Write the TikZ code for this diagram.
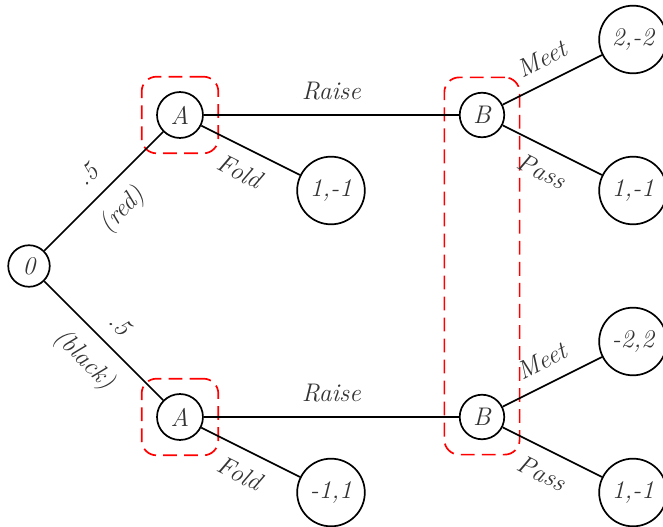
\documentclass[tikz,border=0pt]{standalone}
\usepackage{amsmath}
\usepackage{tikz}
\usetikzlibrary{positioning}
\usetikzlibrary{fit}

\begin{document}
\begin{tikzpicture}[thick,on grid,node distance=2.5cm,
	every node/.style={font=\large\itshape,text=black!80},
	main node/.style={circle,draw,inner sep=0.3333em},
	leaf node/.style={circle,draw,minimum size=1.12cm,inner sep=0pt},
	move/.style={sloped,inner sep=6.5pt},
	info set/.style={draw=red,dash pattern=on 6.5pt off 3.4pt,rounded corners=7pt,inner sep=0.24cm}]
	\useasboundingbox (-0.48,-4.305) rectangle (10.497,4.404);
	
	\node[main node] (r) {0};
	\node[main node] (a1) [above right=2.5cm and 2.5cm of r] {A};
	\node[main node] (a2) [below right=2.5cm and 2.5cm of r] {A};
	\node[main node] (b1) [right=5cm of a1] {B};
	\node[main node] (b2) [right=5cm of a2] {B};
	\node[leaf node] (f1) [below right=1.25cm and 2.5cm of a1] {1,-1};
	\node[leaf node] (f2) [below right=1.25cm and 2.5cm of a2] {-1,1};
	\node[leaf node] (m1) [above right=1.25cm and 2.5cm of b1] {2,-2};
	\node[leaf node] (p1) [below right=1.25cm and 2.5cm of b1] {1,-1};
	\node[leaf node] (m2) [above right=1.25cm and 2.5cm of b2] {-2,2};
	\node[leaf node] (p2) [below right=1.25cm and 2.5cm of b2] {1,-1};
	
	% information sets
	\node[info set,fit=(a1)] {};
	\node[info set,fit=(a2)] {};
	\node[info set,fit=(b1)(b2)] {};
	
	\path
	(r) edge node [move,above] {.5} node [move,below] {(red)} (a1)
	(r) edge node [move,above] {.5} node [move,below] {(black)} (a2)
	(a1) edge node [move,above] {Raise} (b1)
	(a1) edge node [move,below] {Fold} (f1)
	(a2) edge node [move,above] {Raise} (b2)
	(a2) edge node [move,below] {Fold} (f2)
	(b1) edge node [move,above] {Meet} (m1)
	(b1) edge node [move,below] {Pass} (p1)
	(b2) edge node [move,above] {Meet} (m2)
	(b2) edge node [move,below] {Pass} (p2);
\end{tikzpicture}
\end{document}
